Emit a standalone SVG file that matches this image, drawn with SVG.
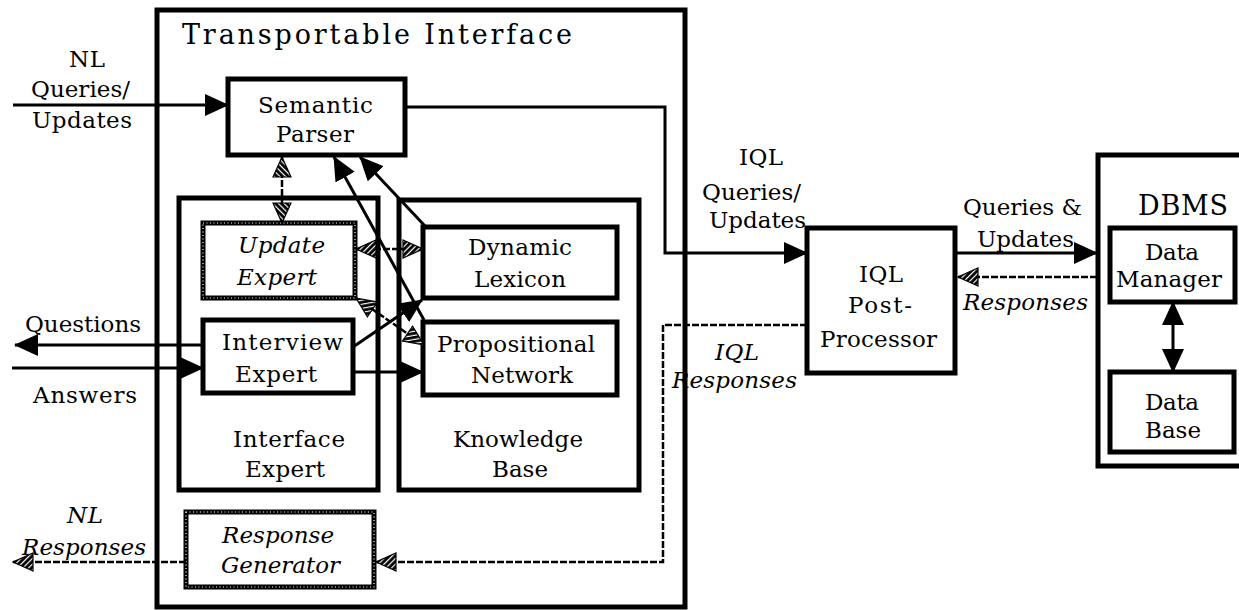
<svg xmlns="http://www.w3.org/2000/svg" width="1239" height="610" viewBox="0 0 1239 610">
<style>
text{font-family:"DejaVu Serif","Liberation Serif",serif;font-size:23px;fill:#000}
.it{font-style:italic}
.big{font-size:27px}
.box{fill:#fff;stroke:#000;stroke-width:5}
.frame{fill:none;stroke:#000;stroke-width:5}
.dbox{fill:#fff;stroke:#000;stroke-width:5}
.speck{fill:none;stroke:#fff;stroke-width:1.2;stroke-dasharray:1 2.5}
.ln{fill:none;stroke:#000;stroke-width:3}
.dl{fill:none;stroke:#000;stroke-width:2.5;stroke-dasharray:7 2}
</style>
<defs>
<pattern id="hatch" width="4" height="4" patternUnits="userSpaceOnUse" patternTransform="rotate(45)">
<rect width="4" height="4" fill="#fff"/><rect width="2.8" height="4" fill="#000"/>
</pattern>
<marker id="arr" markerUnits="userSpaceOnUse" markerWidth="24" markerHeight="24" viewBox="0 0 24 24" refX="23" refY="12" orient="auto-start-reverse">
<path d="M0,1 L24,12 L0,23 z" fill="#000"/>
</marker>
<marker id="harr" markerUnits="userSpaceOnUse" markerWidth="22" markerHeight="22" viewBox="0 0 22 22" refX="21" refY="11" orient="auto-start-reverse">
<path d="M1,2 L21,11 L1,20 z" fill="url(#hatch)" stroke="#000" stroke-width="1.2"/>
</marker>
</defs>

<g id="transportable-interface">
<rect class="frame" x="157" y="10" width="528" height="597"/>
<text class="big" x="182" y="44" textLength="390">Transportable Interface</text>
</g>

<g id="interface-expert">
<rect class="box" x="179" y="198" width="199" height="292"/>
<text x="233" y="447" textLength="112">Interface</text>
<text x="245" y="477" textLength="80">Expert</text>
</g>

<g id="knowledge-base">
<rect class="box" x="399" y="200" width="240" height="290"/>
<text x="453" y="447" textLength="130">Knowledge</text>
<text x="492" y="477" textLength="56">Base</text>
</g>

<g id="semantic-parser">
<rect class="box" x="228" y="79" width="177" height="76"/>
<text x="258" y="113" textLength="115">Semantic</text>
<text x="276" y="142" textLength="78">Parser</text>
</g>

<g id="update-expert">
<rect class="dbox" x="203" y="223" width="152" height="75"/>
<rect class="speck" x="203" y="223" width="152" height="75"/>
<text class="it" x="238" y="253" textLength="87">Update</text>
<text class="it" x="237" y="285" textLength="80">Expert</text>
</g>

<g id="interview-expert">
<rect class="box" x="203" y="320" width="150" height="73"/>
<text x="222" y="350" textLength="121">Interview</text>
<text x="235" y="382" textLength="82">Expert</text>
</g>

<g id="dynamic-lexicon">
<rect class="box" x="423" y="227" width="194" height="71"/>
<text x="468" y="255" textLength="104">Dynamic</text>
<text x="474" y="287" textLength="92">Lexicon</text>
</g>

<g id="propositional-network">
<rect class="box" x="423" y="322" width="194" height="73"/>
<text x="437" y="352" textLength="158">Propositional</text>
<text x="471" y="383" textLength="102">Network</text>
</g>

<g id="response-generator">
<rect class="dbox" x="186" y="512" width="188" height="75"/>
<rect class="speck" x="186" y="512" width="188" height="75"/>
<text class="it" x="222" y="543" textLength="112">Response</text>
<text class="it" x="221" y="573" textLength="119">Generator</text>
</g>

<g id="iql-post-processor">
<rect class="box" x="807" y="228" width="148" height="145"/>
<text x="859" y="282" textLength="44">IQL</text>
<text x="848" y="313" textLength="64">Post-</text>
<text x="820" y="347" textLength="117">Processor</text>
</g>

<g id="dbms">
<rect class="frame" x="1098" y="155" width="160" height="311"/>
<text class="big" x="1138" y="215" textLength="90">DBMS</text>
</g>

<g id="data-manager">
<rect class="box" x="1110" y="228" width="125" height="74"/>
<text x="1145" y="260" textLength="54">Data</text>
<text x="1116" y="287" textLength="106">Manager</text>
</g>

<g id="data-base">
<rect class="box" x="1110" y="372" width="124" height="80"/>
<text x="1145" y="410" textLength="54">Data</text>
<text x="1145" y="438" textLength="56">Base</text>
</g>

<g id="connectors">
<path class="ln" d="M13,105 L228,105" marker-end="url(#arr)"/>
<path class="ln" d="M203,345 L15,345" marker-end="url(#arr)"/>
<path class="ln" d="M12,368 L203,368" marker-end="url(#arr)"/>
<path class="ln" d="M405,107 L665,107 L665,253 L807,253" marker-end="url(#arr)"/>
<path class="ln" d="M955,253 L1097,253" marker-end="url(#arr)"/>
<path class="dl" d="M1097,277 L958,277" marker-end="url(#harr)"/>
<path class="dl" d="M807,325 L663,325 L663,562 L376,562" marker-end="url(#harr)"/>
<path class="dl" d="M186,562 L13,562" marker-end="url(#harr)"/>
<path class="dl" d="M282,223 L282,157" marker-start="url(#harr)" marker-end="url(#harr)"/>
<path class="dl" d="M356,249 L423,249" marker-start="url(#harr)" marker-end="url(#harr)"/>
<path class="dl" d="M356,298 L424,345" marker-start="url(#harr)" marker-end="url(#harr)"/>
<path class="ln" d="M424,320 L334,157" marker-end="url(#arr)"/>
<path class="ln" d="M425,226 L360,157" marker-end="url(#arr)"/>
<path class="ln" d="M353,347 L422,300" marker-end="url(#arr)"/>
<path class="ln" d="M353,372 L423,372" marker-end="url(#arr)"/>
<path class="ln" d="M1173,302 L1173,372" marker-start="url(#arr)" marker-end="url(#arr)"/>
</g>

<g id="labels">
<text x="69" y="67" textLength="36">NL</text>
<text x="31" y="97" textLength="99">Queries/</text>
<text x="32" y="128" textLength="100">Updates</text>
<text x="25" y="332" textLength="116">Questions</text>
<text x="33" y="403" textLength="104">Answers</text>
<text class="it" x="67" y="523" textLength="36">NL</text>
<text class="it" x="22" y="555" textLength="124">Responses</text>
<text x="739" y="165" textLength="44">IQL</text>
<text x="702" y="200" textLength="99">Queries/</text>
<text x="709" y="228" textLength="97">Updates</text>
<text class="it" x="715" y="360" textLength="44">IQL</text>
<text class="it" x="672" y="388" textLength="125">Responses</text>
<text x="963" y="215" textLength="119">Queries &amp;</text>
<text x="977" y="247" textLength="97">Updates</text>
<text class="it" x="963" y="310" textLength="125">Responses</text>
</g>
</svg>
